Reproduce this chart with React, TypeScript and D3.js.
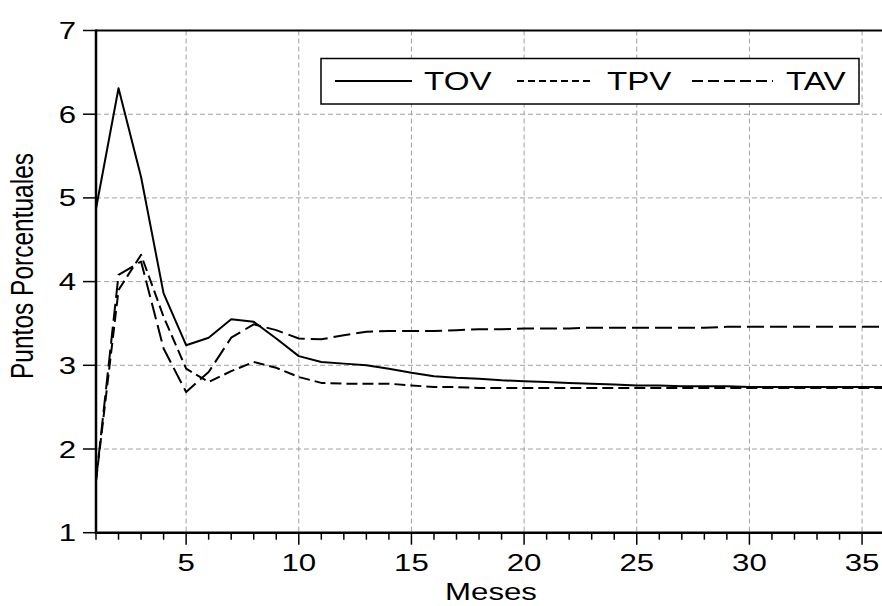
import React, { useEffect, useRef } from "react";
import * as d3 from "d3";

// Meses 1..36
const months = [
  1, 2, 3, 4, 5, 6, 7, 8, 9, 10, 11, 12, 13, 14, 15, 16, 17, 18, 19, 20, 21, 22,
  23, 24, 25, 26, 27, 28, 29, 30, 31, 32, 33, 34, 35, 36,
];

const tov = [
  4.87, 6.31, 5.25, 3.86, 3.24, 3.33, 3.55, 3.52, 3.32, 3.11, 3.04, 3.02, 3.0,
  2.96, 2.91, 2.87, 2.85, 2.84, 2.82, 2.81, 2.8, 2.79, 2.78, 2.77, 2.76, 2.76,
  2.75, 2.75, 2.75, 2.74, 2.74, 2.74, 2.74, 2.74, 2.74, 2.74,
];

const tpv = [
  1.62, 3.9, 4.32, 3.58, 2.96, 2.8, 2.93, 3.04, 2.97, 2.86, 2.79, 2.78, 2.78,
  2.78, 2.76, 2.74, 2.74, 2.73, 2.73, 2.73, 2.73, 2.73, 2.73, 2.73, 2.73, 2.73,
  2.73, 2.73, 2.73, 2.73, 2.73, 2.73, 2.73, 2.73, 2.73, 2.73,
];

const tav = [
  1.62, 4.08, 4.24, 3.2, 2.68, 2.92, 3.33, 3.49, 3.42, 3.32, 3.31, 3.36, 3.4,
  3.41, 3.41, 3.41, 3.42, 3.43, 3.43, 3.44, 3.44, 3.44, 3.45, 3.45, 3.45, 3.45,
  3.45, 3.45, 3.46, 3.46, 3.46, 3.46, 3.46, 3.46, 3.46, 3.46,
];

const yTicks = [1, 2, 3, 4, 5, 6, 7];
const xLabelTicks = [5, 10, 15, 20, 25, 30, 35];

const seriesNames = ["TOV", "TPV", "TAV"];
const seriesDash = ["none", "11,5", "17,6"];
const legendDash = ["none", "7,4", "11,5"];

const FONT = "'Liberation Sans', Arial, sans-serif";
const SX = 1.3; // the original output is stretched horizontally

export default function App() {
  const ref = useRef<SVGSVGElement>(null);

  useEffect(() => {
    const width = 882;
    const svg = d3.select(ref.current);
    svg.selectAll("*").remove();

    const xScale = d3.scaleLinear().domain([1, 36]).range([96, 884.6]);
    const yScale = d3.scaleLinear().domain([1, 7]).range([532.7, 30.5]);

    const x0 = xScale(1);
    const y0 = yScale(1);
    const yTop = yScale(7);

    // grid
    const grid = svg
      .append("g")
      .attr("stroke", "#a0a0a0")
      .attr("stroke-width", 1)
      .attr("stroke-dasharray", "5,3");
    yTicks
      .filter((t) => t > 1 && t < 7)
      .forEach((t) => {
        grid.append("line").attr("x1", x0).attr("x2", width).attr("y1", yScale(t)).attr("y2", yScale(t));
      });
    xLabelTicks.forEach((t) => {
      grid.append("line").attr("x1", xScale(t)).attr("x2", xScale(t)).attr("y1", yTop).attr("y2", y0);
    });

    // lines
    const data = [tov, tpv, tav];
    const line = d3
      .line<number>()
      .x((d, i) => xScale(months[i]))
      .y((d) => yScale(d));

    data.forEach((vals, k) => {
      svg
        .append("path")
        .attr("fill", "none")
        .attr("stroke", "#000")
        .attr("stroke-width", 2)
        .attr("stroke-linejoin", "round")
        .attr("stroke-dasharray", seriesDash[k])
        .attr("d", line(vals));
    });

    // frame / axes
    svg.append("line").attr("x1", x0).attr("x2", width).attr("y1", yTop).attr("y2", yTop).attr("stroke", "#000").attr("stroke-width", 2);
    svg.append("line").attr("x1", x0).attr("x2", x0).attr("y1", yTop - 1).attr("y2", y0 + 1).attr("stroke", "#000").attr("stroke-width", 2.5);
    svg.append("line").attr("x1", x0 - 1).attr("x2", width).attr("y1", y0).attr("y2", y0).attr("stroke", "#000").attr("stroke-width", 2.5);

    // y ticks
    yTicks.forEach((t) => {
      svg.append("line").attr("x1", 83).attr("x2", x0).attr("y1", yScale(t)).attr("y2", yScale(t)).attr("stroke", "#000").attr("stroke-width", 1.5);
      svg
        .append("text")
        .attr("transform", `translate(76,${yScale(t) + 8.5}) scale(${SX},1)`)
        .attr("text-anchor", "end")
        .attr("font-family", FONT)
        .attr("font-size", 24)
        .text(t);
    });

    // x ticks
    months.forEach((m) => {
      const major = m % 5 === 0;
      svg
        .append("line")
        .attr("x1", xScale(m))
        .attr("x2", xScale(m))
        .attr("y1", y0)
        .attr("y2", y0 + (major ? 12 : 7))
        .attr("stroke", "#000")
        .attr("stroke-width", 1.5);
    });
    xLabelTicks.forEach((t) => {
      svg
        .append("text")
        .attr("transform", `translate(${xScale(t)},570.5) scale(${SX},1)`)
        .attr("text-anchor", "middle")
        .attr("font-family", FONT)
        .attr("font-size", 24)
        .text(t);
    });

    // axis titles
    svg
      .append("text")
      .attr("transform", `translate(491,600) scale(${SX},1)`)
      .attr("text-anchor", "middle")
      .attr("font-family", FONT)
      .attr("font-size", 24)
      .text("Meses");

    svg
      .append("text")
      .attr("transform", `translate(33,266) rotate(-90) scale(1,${SX})`)
      .attr("text-anchor", "middle")
      .attr("font-family", FONT)
      .attr("font-size", 24.5)
      .text("Puntos Porcentuales");

    // legend
    const lg = svg.append("g");
    lg.append("rect")
      .attr("x", 321)
      .attr("y", 58.5)
      .attr("width", 538)
      .attr("height", 45.5)
      .attr("fill", "#fff")
      .attr("stroke", "#000")
      .attr("stroke-width", 1.5);

    const legendItems = [
      { x1: 335, x2: 412, tx: 424 },
      { x1: 517, x2: 594, tx: 607 },
      { x1: 692, x2: 773, tx: 786 },
    ];
    legendItems.forEach((it, k) => {
      lg.append("line")
        .attr("x1", it.x1)
        .attr("x2", it.x2)
        .attr("y1", 81)
        .attr("y2", 81)
        .attr("stroke", "#000")
        .attr("stroke-width", 2)
        .attr("stroke-dasharray", legendDash[k]);
      lg.append("text")
        .attr("transform", `translate(${it.tx},90) scale(${SX},1)`)
        .attr("font-family", FONT)
        .attr("font-size", 25.5)
        .text(seriesNames[k]);
    });
  }, []);

  return (
    <svg
      ref={ref}
      width={882}
      height={606}
      viewBox="0 0 882 606"
      style={{ position: "absolute", left: 0, top: 0, background: "#fff", display: "block" }}
    />
  );
}
